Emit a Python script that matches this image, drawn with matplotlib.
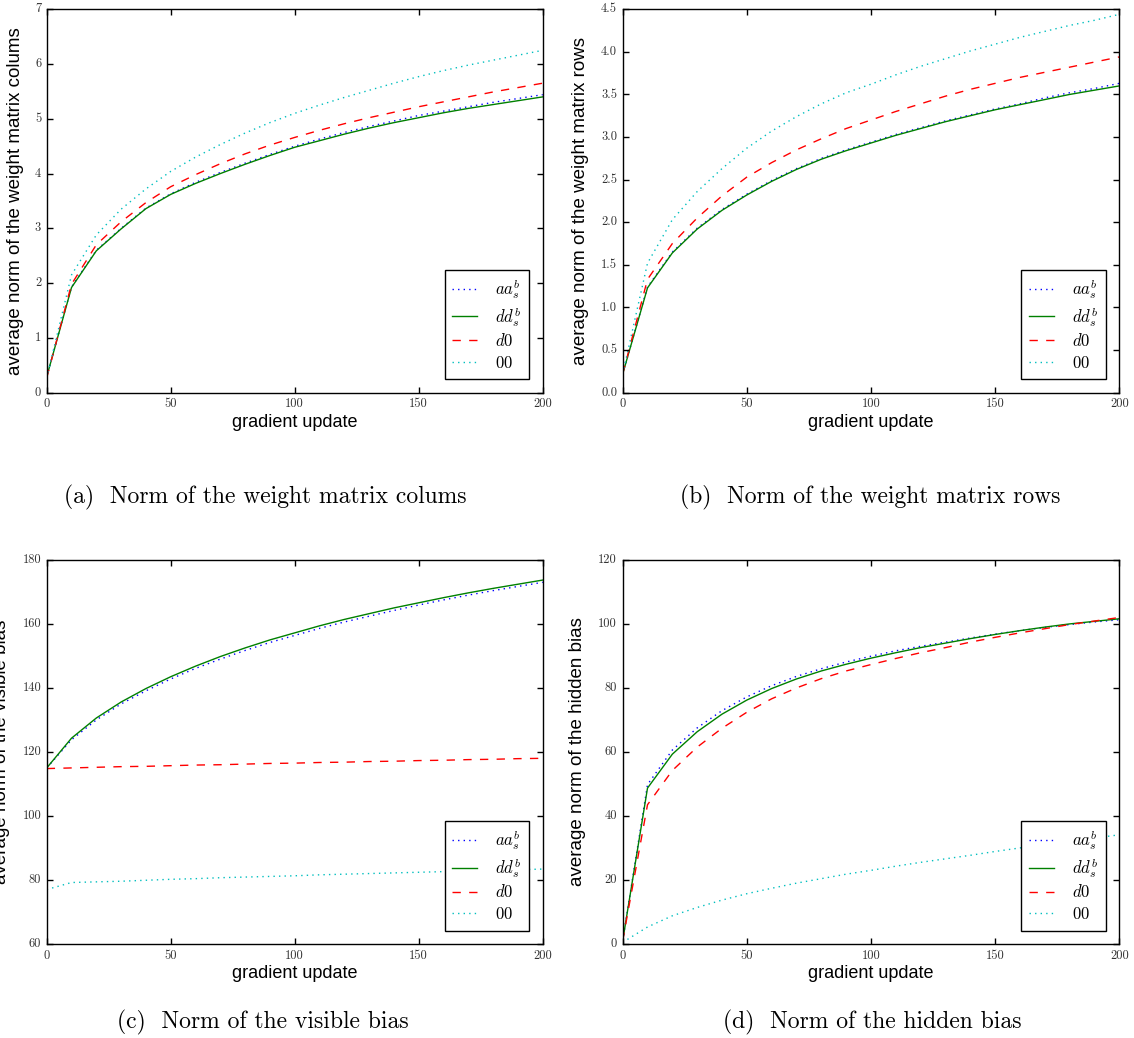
import numpy as np
import matplotlib
matplotlib.use('Agg')
import matplotlib.pyplot as plt

# --------------------------------------------------DATA--------------------------------------------------

steps = [0, 10, 20, 30, 40, 50, 60, 70, 80, 90, 100, 110, 120, 130, 140, 150, 160, 170, 180, 190, 200]

# (a) norm of the weight matrix colums
colsAA = [0.29, 1.93, 2.60, 3.00, 3.37, 3.63, 3.84, 4.02, 4.19, 4.35, 4.50, 4.63, 4.75, 4.86, 4.96, 5.06, 5.14, 5.22, 5.30, 5.37, 5.44]
colsDD = [0.29, 1.92, 2.59, 2.99, 3.36, 3.62, 3.82, 4.00, 4.17, 4.33, 4.48, 4.60, 4.72, 4.83, 4.93, 5.02, 5.11, 5.19, 5.26, 5.33, 5.40]
colsD0 = [0.27, 1.98, 2.70, 3.12, 3.47, 3.76, 3.98, 4.18, 4.36, 4.52, 4.66, 4.79, 4.91, 5.02, 5.12, 5.22, 5.31, 5.40, 5.49, 5.57, 5.65]
cols00 = [0.27, 2.15, 2.88, 3.35, 3.72, 4.04, 4.30, 4.53, 4.74, 4.93, 5.10, 5.25, 5.39, 5.52, 5.65, 5.77, 5.88, 5.98, 6.07, 6.16, 6.25]

# (b) norm of the weight matrix rows
rowsAA = [0.22, 1.24, 1.65, 1.93, 2.15, 2.33, 2.49, 2.63, 2.75, 2.85, 2.94, 3.03, 3.11, 3.19, 3.26, 3.33, 3.39, 3.46, 3.52, 3.57, 3.63]
rowsDD = [0.22, 1.23, 1.64, 1.92, 2.14, 2.32, 2.48, 2.62, 2.74, 2.84, 2.93, 3.02, 3.10, 3.18, 3.25, 3.32, 3.38, 3.44, 3.50, 3.55, 3.60]
rowsD0 = [0.22, 1.33, 1.75, 2.05, 2.31, 2.53, 2.70, 2.85, 2.98, 3.10, 3.20, 3.30, 3.39, 3.48, 3.56, 3.63, 3.70, 3.76, 3.82, 3.88, 3.94]
rows00 = [0.22, 1.52, 2.03, 2.36, 2.63, 2.87, 3.07, 3.24, 3.39, 3.52, 3.62, 3.73, 3.83, 3.92, 4.01, 4.09, 4.17, 4.24, 4.31, 4.37, 4.44]

# (c) norm of the visible bias
visAA = [115.0, 123.8, 130.0, 135.0, 139.1, 142.8, 146.1, 149.0, 151.7, 154.2, 156.4, 158.6, 160.6, 162.4, 164.2, 165.9, 167.5, 169.0, 170.4, 171.7, 173.0]
visDD = [115.0, 124.3, 130.6, 135.6, 139.8, 143.5, 146.8, 149.8, 152.5, 155.0, 157.2, 159.4, 161.4, 163.2, 165.0, 166.6, 168.2, 169.7, 171.1, 172.4, 173.7]
visD0 = [114.8, 115.0, 115.2, 115.4, 115.5, 115.7, 115.9, 116.0, 116.2, 116.4, 116.5, 116.7, 116.8, 117.0, 117.1, 117.3, 117.4, 117.6, 117.7, 117.9, 118.0]
vis00 = [77.0, 79.2, 79.4, 79.6, 79.9, 80.2, 80.4, 80.7, 80.9, 81.1, 81.3, 81.6, 81.8, 82.0, 82.2, 82.4, 82.6, 82.8, 83.0, 83.2, 83.4]

# (d) norm of the hidden bias
hidAA = [1.0, 49.8, 60.6, 67.5, 72.9, 77.2, 80.7, 83.6, 86.0, 88.1, 89.9, 91.6, 93.0, 94.3, 95.6, 96.8, 97.9, 98.9, 99.8, 100.6, 101.3]
hidDD = [1.0, 48.7, 59.3, 66.3, 71.8, 76.2, 79.8, 82.8, 85.3, 87.4, 89.3, 91.0, 92.6, 94.0, 95.4, 96.7, 97.9, 99.0, 100.0, 100.8, 101.6]
hidD0 = [1.0, 43.5, 54.2, 61.5, 67.4, 72.4, 76.6, 80.0, 82.9, 85.3, 87.3, 89.2, 91.0, 92.6, 94.3, 95.8, 97.2, 98.5, 99.8, 100.9, 102.0]
hid00 = [0.5, 5.3, 8.8, 11.4, 13.7, 15.7, 17.4, 19.0, 20.4, 21.8, 23.0, 24.3, 25.5, 26.6, 27.7, 28.9, 30.0, 31.1, 32.1, 33.1, 34.1]

legendLabels = [r'$aa_s^b$', r'$dd_s^b$', r'$d0$', r'$00$']
ylabels = ['average norm of the weight matrix colums',
           'average norm of the weight matrix rows',
           'average norm of the visible bias',
           'average norm of the hidden bias']
captions = ['(a)  Norm of the weight matrix colums',
            '(b)  Norm of the weight matrix rows',
            '(c)  Norm of the visible bias',
            '(d)  Norm of the hidden bias']
ylims = [(0, 7), (0, 4.5), (60, 180), (0, 120)]

panels = [[colsAA, colsDD, colsD0, cols00],
          [rowsAA, rowsDD, rowsD0, rows00],
          [visAA, visDD, visD0, vis00],
          [hidAA, hidDD, hidD0, hid00]]

# --------------------------------------------------PLOTTING--------------------------------------------------

plt.style.use('classic')
plt.rcParams['mathtext.fontset'] = 'cm'
plt.rcParams['axes.unicode_minus'] = False

fig = plt.figure(figsize=(11.34, 10.38), dpi=100, facecolor='white')

# axes rectangles [left, bottom, width, height] in figure fractions
rects = [[0.0412, 0.6217, 0.4374, 0.3694],
         [0.5491, 0.6217, 0.4379, 0.3694],
         [0.0412, 0.0906, 0.4374, 0.3700],
         [0.5491, 0.0906, 0.4379, 0.3700]]
ylabelX = [-0.046, -0.067, -0.074, -0.073]
captionPos = [(0.2337, 0.521), (0.767, 0.521), (0.232, 0.0145), (0.769, 0.0145)]

styles = [('b', ':'), ('g', '-'), ('r', '--'), ('c', ':')]

for i in range(4):
    ax = fig.add_axes(rects[i])
    for series, (col, ls), lab in zip(panels[i], styles, legendLabels):
        ax.plot(steps, series, color=col, linestyle=ls, linewidth=1.0, label=lab)
    ax.set_xlim(0, 200)
    ax.set_ylim(*ylims[i])
    ax.set_xticks([0, 50, 100, 150, 200])
    for t in ax.get_xticklabels() + ax.get_yticklabels():
        t.set_fontfamily('cmr10')
        t.set_fontsize(9)
        t.set_color('#333333')
    ax.tick_params(which='major', direction='in', length=4, width=1, pad=4, top=True, right=True)
    ax.set_xlabel('gradient update', family='Liberation Sans', fontsize=13)
    ax.xaxis.set_label_coords(0.5, -0.055)
    ax.set_ylabel(ylabels[i], family='Liberation Sans', fontsize=13.5)
    ax.yaxis.set_label_coords(ylabelX[i], 0.5)
    leg = ax.legend(loc='lower right', prop={'size': 12}, handlelength=1.5, handletextpad=1.1,
                    borderaxespad=0.8, borderpad=0.45, labelspacing=0.22, fancybox=False, numpoints=1)
    leg.get_frame().set_linewidth(1.0)
    fig.text(captionPos[i][0], captionPos[i][1], captions[i], family='cmr10', fontsize=17,
             ha='center', va='center')

fig.savefig('out.png', dpi=100, facecolor='white')
